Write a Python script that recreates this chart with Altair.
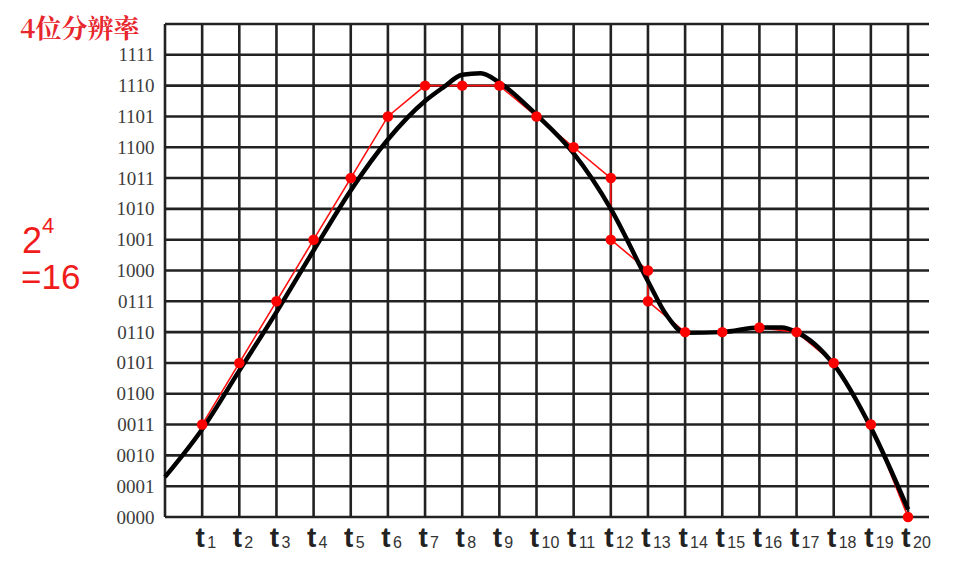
import altair as alt
import pandas as pd

# ---- data ----
level_labels = ["0000", "0001", "0010", "0011", "0100", "0101", "0110", "0111",
                "1000", "1001", "1010", "1011", "1100", "1101", "1110", "1111"]
t_index = list(range(1, 21))
t_subs = [str(i) for i in t_index]

# sampled (quantised) red points, in drawing order
red_t = [1, 2, 3, 4, 5, 6, 7, 8, 9, 10, 11, 12, 12, 13, 13, 14, 15, 16, 17, 18, 19, 20]
red_v = [3, 5, 7, 9, 11, 13, 14, 14, 14, 13, 12, 11, 9, 8, 7, 6, 6, 6.15, 6, 5, 3, 0]

# analog black curve
curve_t = [0, 1, 2, 3, 4, 5, 6, 7, 7.5, 8, 8.5, 9, 10, 11, 12, 13, 13.5, 14, 15, 16, 16.6, 17, 17.5, 18, 19, 20]
curve_v = [1.3, 2.85, 4.75, 6.65, 8.65, 10.6, 12.25, 13.5, 13.95, 14.35, 14.4, 14.1, 13.05, 11.8, 10.0,
           7.65, 6.55, 5.98, 6.0, 6.15, 6.15, 6.0, 5.6, 4.95, 2.9, 0.25]

W, H = 764, 493
XMAX = 20.565
YMAX = 16

xs = alt.Scale(domain=[0, XMAX], nice=False, zero=False)
ys = alt.Scale(domain=[0, YMAX], nice=False, zero=False)

label_expr = "[" + ",".join("'" + s + "'" for s in level_labels) + "][datum.value]"
yaxis = alt.Axis(values=list(range(16)), labelExpr=label_expr, grid=False,
                 domain=False, ticks=False, labelPadding=11,
                 labelFont="Liberation Serif", labelFontSize=19,
                 labelColor="#3c3c3c", title=None)


def X(field):
    return alt.X(field, scale=xs, axis=None)


def Y(field):
    return alt.Y(field, scale=ys, axis=yaxis)


vgrid = pd.DataFrame({"t": [0] + t_index, "y0": 0, "y1": YMAX})
hgrid = pd.DataFrame({"lv": list(range(0, 17)), "x0": 0, "x1": XMAX})

vlines = alt.Chart(vgrid).mark_rule(color="#222222", strokeWidth=2.6).encode(
    x=X("t:Q"), y=Y("y0:Q"), y2="y1:Q",
)
hlines = alt.Chart(hgrid).mark_rule(color="#222222", strokeWidth=2.6).encode(
    y=Y("lv:Q"), x=X("x0:Q"), x2="x1:Q",
)

curve_df = pd.DataFrame({"t": curve_t, "v": curve_v})
curve = alt.Chart(curve_df).mark_line(color="black", strokeWidth=4.5, interpolate="monotone").encode(
    x=X("t:Q"), y=Y("v:Q"),
)

red_df = pd.DataFrame({"i": list(range(len(red_t))), "t": red_t, "v": red_v})
red_line = alt.Chart(red_df).mark_line(color="#ff1010", strokeWidth=1.6).encode(
    x=X("t:Q"), y=Y("v:Q"), order="i:Q",
)
red_pts = alt.Chart(red_df).mark_circle(color="#ff0000", size=110, opacity=1).encode(
    x=X("t:Q"), y=Y("v:Q"),
)

tl_df = pd.DataFrame({"t": t_index, "main": ["t"] * 20, "sub": t_subs})
t_main = alt.Chart(tl_df).mark_text(font="Liberation Sans", fontWeight="bold", fontSize=28,
                                    color="#222222", align="center", baseline="alphabetic", dx=-2).encode(
    x=X("t:Q"), y=alt.value(H + 30), text="main:N",
)
t_sub = alt.Chart(tl_df).mark_text(font="Liberation Sans", fontSize=16,
                                   color="#333333", align="left", baseline="alphabetic", dx=5).encode(
    x=X("t:Q"), y=alt.value(H + 31), text="sub:N",
)


def note(txt, x, y, size, color, font="Liberation Sans", weight="normal", baseline="alphabetic"):
    return alt.Chart(pd.DataFrame({"s": [txt]})).mark_text(
        font=font, fontSize=size, fontWeight=weight, color=color, align="left", baseline=baseline
    ).encode(x=alt.value(x), y=alt.value(y), text="s:N")


title_note = note("4位分辨率", -145, 6, 26, "#e8262d", font="Noto Serif CJK SC, Noto Sans CJK SC",
                  weight="bold", baseline="middle")
two = note("2", -143, 229, 36, "#f01c1c")
four = note("4", -123, 209, 22, "#f01c1c")
sixteen = note("=16", -144, 265, 35, "#f01c1c")

chart = alt.layer(vlines, hlines, red_line, curve, red_pts, t_main, t_sub,
                  title_note, two, four, sixteen).properties(
    width=W, height=H,
    autosize=alt.AutoSizeParams(type="none"),
    padding={"left": 157, "top": 16, "right": 15, "bottom": 45},
    background="white",
).configure_view(stroke=None)

chart.save("out.html", embed_options={"renderer": "svg", "actions": False})
